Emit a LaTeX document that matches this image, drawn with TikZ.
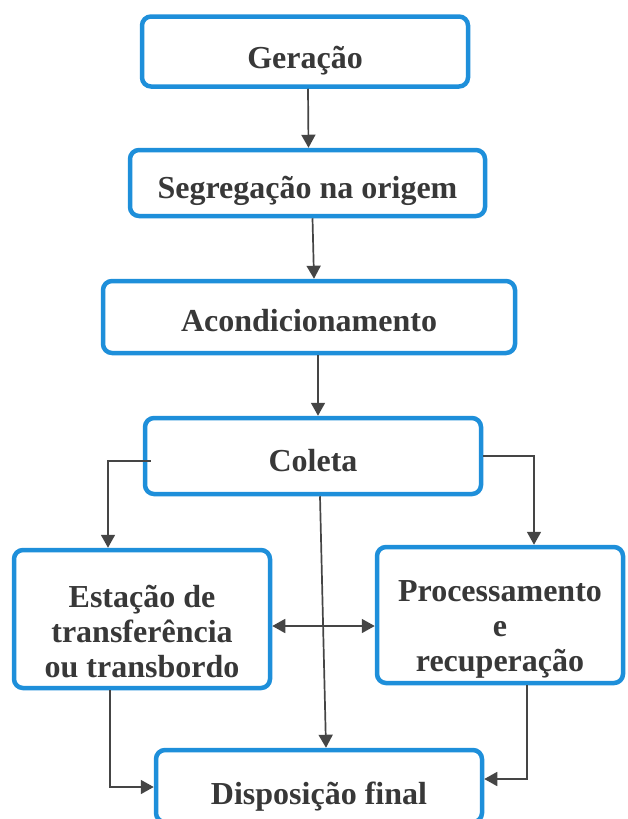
\documentclass[tikz,border=0pt]{standalone}
\usepackage{fontspec}
\setmainfont{Liberation Serif}
\usetikzlibrary{arrows.meta,calc}
\definecolor{boxblue}{HTML}{1E8FDA}
\definecolor{txt}{HTML}{383838}
\definecolor{arrc}{HTML}{454545}
\begin{document}
\begin{tikzpicture}[x=1pt,y=-1pt,
  blk/.style={draw=boxblue, line width=4.5pt, rounded corners=9pt, fill=white, inner sep=0pt},
  lbl/.style={text=txt, font=\fontsize{32}{35}\selectfont\bfseries, align=center, inner sep=0pt},
  arr/.style={draw=arrc, line width=1.7pt, -{Triangle[length=13pt,width=14pt]}},
  darr/.style={draw=arrc, line width=1.7pt, {Triangle[length=13pt,width=14pt]}-{Triangle[length=13pt,width=14pt]}}]
\useasboundingbox (0,0) rectangle (627,819);
\begin{scope}
\clip (0,0) rectangle (627,819);
\node[blk, minimum width=326pt, minimum height=70pt] (ger) at (305,51.5) {};
\node[blk, minimum width=355pt, minimum height=66pt] (seg) at (307.5,183) {};
\node[blk, minimum width=412pt, minimum height=72pt] (aco) at (309,317) {};
\node[blk, minimum width=336pt, minimum height=76pt] (col) at (313,456) {};
\node[blk, minimum width=256pt, minimum height=138pt] (est) at (142,619) {};
\node[blk, minimum width=246pt, minimum height=136pt] (pro) at (500,615) {};
\node[blk, minimum width=326pt, minimum height=72pt] (dis) at (319,786) {};

\node[lbl] (gert) at ([yshift=-9pt]ger.center) {Geração};
\node[lbl] (segt) at ([yshift=-8pt]seg.center) {Segregação na origem};
\node[lbl] (acot) at ([yshift=-4pt]aco.center) {Acondicionamento};
\node[lbl] (colt) at ([yshift=-5pt]col.center) {Coleta};
\node[lbl] (estt) at ([yshift=-13pt]est.center) {Estação de\\transferência\\ou transbordo};
\node[lbl] (prot) at ([yshift=-14pt]pro.center) {Processamento\\e\\recuperação};
\node[lbl] (dist) at ([yshift=-11pt]dis.center) {Disposição final};

\draw[arr] ([xshift=3pt]ger.south) -- ([xshift=1pt]seg.north);
\draw[arr] ([xshift=5pt]seg.south) -- ([xshift=5pt]aco.north);
\draw[arr] ([xshift=9pt]aco.south) -- ([xshift=5pt]col.north);
\draw[arr] ([xshift=8pt,yshift=-5pt]col.west) -| ([xshift=-34pt]est.north);
\draw[arr] (col.east) -| ([xshift=34pt]pro.north);
\draw[arr] ([xshift=7pt]col.south) -- ([xshift=7pt]dis.north);
\draw[darr] ([yshift=-7pt]est.east) -- ([yshift=-7pt]est.east -| pro.west);
\draw[arr] ([xshift=-32pt]est.south) |- ([yshift=-1pt]dis.west);
\draw[arr] ([xshift=27pt]pro.south) |- ([yshift=7pt]dis.east);
\end{scope}
\end{tikzpicture}
\end{document}
